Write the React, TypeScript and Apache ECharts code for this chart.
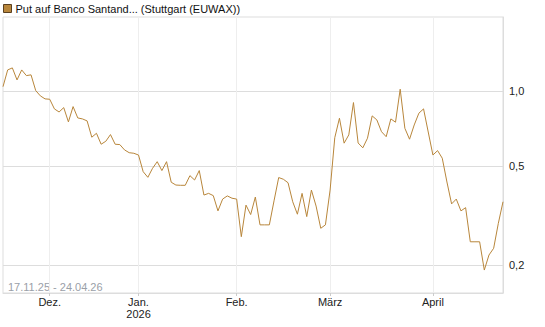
import React, { useEffect, useRef } from "react";
import * as echarts from "echarts";

// Trading calendar (EUWAX) between first and last quote
const START = "2025-11-17";
const END = "2026-04-24";
const HOLIDAYS = ["2025-12-24", "2025-12-25", "2025-12-26", "2025-12-31", "2026-01-01", "2026-04-03", "2026-04-06"];

// Prices (one per trading day)
const prices = [
  1.04, 1.214, 1.237, 1.107, 1.214, 1.152, 1.16, 1.003, 0.955, 0.929,
  0.926, 0.847, 0.823, 0.857, 0.751, 0.865, 0.779, 0.772, 0.758, 0.652,
  0.676, 0.611, 0.628, 0.668, 0.611, 0.609, 0.58, 0.565, 0.562, 0.553,
  0.474, 0.45, 0.489, 0.52, 0.479, 0.52, 0.43, 0.419, 0.418, 0.418,
  0.457, 0.439, 0.479, 0.382, 0.388, 0.38, 0.33, 0.368, 0.379, 0.371,
  0.368, 0.26, 0.348, 0.319, 0.375, 0.29, 0.29, 0.29, 0.362, 0.449,
  0.442, 0.428, 0.359, 0.32, 0.388, 0.313, 0.4, 0.345, 0.281, 0.29,
  0.4, 0.649, 0.777, 0.617, 0.666, 0.898, 0.618, 0.591, 0.646, 0.794,
  0.765, 0.686, 0.655, 0.772, 0.749, 1.016, 0.708, 0.64, 0.73, 0.814,
  0.847, 0.684, 0.553, 0.576, 0.537, 0.431, 0.352, 0.368, 0.33, 0.34,
  0.248, 0.248, 0.248, 0.191, 0.2195, 0.2335, 0.294, 0.359,
];

const yTicks = [0.2, 0.5, 1.0];
const monthNames = ["Jan.", "Feb.", "März", "April", "Mai", "Juni", "Juli", "Aug.", "Sept.", "Okt.", "Nov.", "Dez."];
const SERIES_NAME = "Put auf Banco Santand... (Stuttgart (EUWAX))";
const RANGE_TEXT = "17.11.25 - 24.04.26";

function tradingDays(): string[] {
  const out: string[] = [];
  const d = new Date(START + "T12:00:00Z");
  const end = new Date(END + "T12:00:00Z");
  while (d <= end) {
    const iso = d.toISOString().slice(0, 10);
    const wd = d.getUTCDay();
    if (wd !== 0 && wd !== 6 && HOLIDAYS.indexOf(iso) < 0) out.push(iso);
    d.setUTCDate(d.getUTCDate() + 1);
  }
  return out;
}

export default function App() {
  const ref = useRef<HTMLDivElement>(null);
  useEffect(() => {
    if (!ref.current) return;
    const chart = echarts.init(ref.current, null, { renderer: "svg" });
    const dates = tradingDays();
    const isMonthStart = (idx: number) =>
      idx > 0 && dates[idx] && dates[idx - 1] && dates[idx].slice(5, 7) !== dates[idx - 1].slice(5, 7);
    const font = "'Liberation Sans', Arial, sans-serif";
    chart.setOption({
      animation: false,
      textStyle: { fontFamily: font },
      legend: {
        show: true,
        left: 0,
        top: 1,
        icon: "rect",
        itemWidth: 8,
        itemHeight: 8,
        itemGap: 5,
        padding: [2, 3],
        textStyle: { fontSize: 11, color: "#111", fontFamily: font, padding: [0, 0, 0, -1] },
        data: [{ name: SERIES_NAME, itemStyle: { color: "#B8863B", borderColor: "#5a4020", borderWidth: 1 } }],
      },
      grid: {
        left: 3,
        right: 42,
        top: 17,
        bottom: 34,
        show: true,
        borderColor: "#ddd",
        borderWidth: 1,
      },
      graphic: [
        {
          type: "text",
          left: 8,
          top: 281,
          style: { text: RANGE_TEXT, fontSize: 11, fill: "#9aa0a8", fontFamily: font },
        },
      ],
      xAxis: {
        type: "category",
        data: dates,
        boundaryGap: false,
        axisLine: { show: true, lineStyle: { color: "#ddd" } },
        axisTick: { show: true, interval: (i: number) => isMonthStart(i), length: 3, lineStyle: { color: "#ccc" } },
        splitLine: { show: true, interval: (i: number) => isMonthStart(i), lineStyle: { color: "#eee", width: 1 } },
        axisLabel: {
          interval: (i: number) => isMonthStart(i),
          fontSize: 11,
          color: "#222",
          margin: 3,
          lineHeight: 12,
          formatter: (v: string) => {
            const m = parseInt(v.slice(5, 7), 10);
            const name = monthNames[m - 1];
            return m === 1 ? name + "\n" + v.slice(0, 4) : name;
          },
        },
      },
      yAxis: {
        type: "log",
        position: "right",
        min: 0.1545,
        max: 1.98,
        axisLine: { show: true, lineStyle: { color: "#ddd" } },
        axisTick: { show: false, customValues: yTicks },
        splitLine: { show: true, lineStyle: { color: "#ddd" } },
        axisLabel: {
          customValues: yTicks,
          fontSize: 11,
          color: "#222",
          margin: 6,
          formatter: (v: number) => v.toFixed(1).replace(".", ","),
        },
      },
      series: [
        {
          name: SERIES_NAME,
          type: "line",
          data: prices,
          symbol: "none",
          lineStyle: { color: "#B8863B", width: 1 },
          itemStyle: { color: "#B8863B" },
        },
      ],
    });
    return () => chart.dispose();
  }, []);
  return <div ref={ref} style={{ width: 545, height: 327, position: "absolute", left: 0, top: 0 }} />;
}
